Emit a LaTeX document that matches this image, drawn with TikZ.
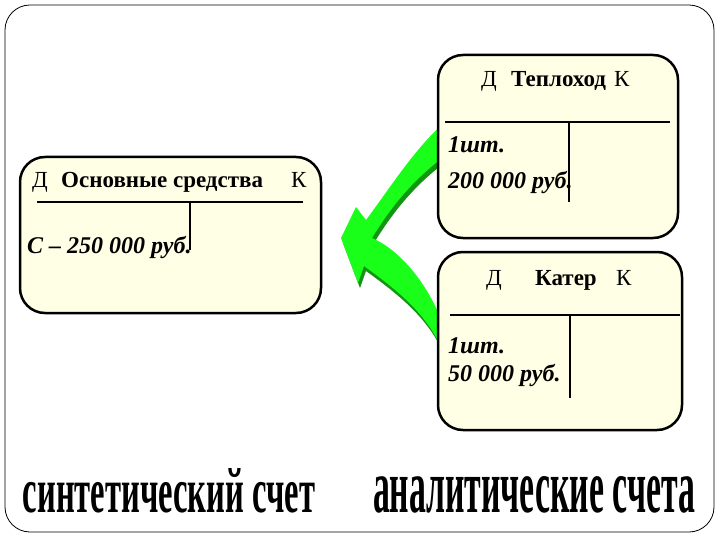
\documentclass[tikz,border=0pt]{standalone}
\usepackage{fontspec}
\setmainfont{Liberation Serif}
\usepackage{graphicx}
\definecolor{paper}{RGB}{255,255,230}
\definecolor{arrowgreen}{RGB}{25,255,25}
\definecolor{arrowshade}{RGB}{16,150,16}

\begin{document}
\begin{tikzpicture}[x=1pt, y=-1pt,
        acct/.style={draw=black, line width=2.5pt, fill=paper, rounded corners=25pt, inner sep=0pt},
        tline/.style={line width=1.6pt},
        head/.style={anchor=base west, inner sep=0pt, font=\fontsize{23}{23}\selectfont},
        headb/.style={head, font=\fontsize{23}{23}\selectfont\bfseries},
        sum/.style={anchor=base west, inner sep=0pt, font=\fontsize{24}{24}\selectfont\bfseries\itshape},
        big/.style={anchor=base, inner sep=0pt, font=\bfseries}]
        \useasboundingbox (0,0) rectangle (720,540);
        % frame
        \draw[line width=0.8pt, rounded corners=25pt] (5,5) rectangle (714,532);
        % green arrow, shadow first
        \foreach \c/\dx/\dy in {arrowshade/2/5, arrowgreen/0/0}
            \fill[\c, shift={(\dx,\dy)}]
                (341,238) -- (356,207) -- (366,220)
                .. controls (390,188) and (415,148) .. (445,122) -- (445,156)
                .. controls (415,178) and (392,205) .. (372,238)
                .. controls (400,250) and (430,285) .. (445,330) -- (445,358)
                .. controls (432,318) and (400,292) .. (364,266)
                -- (358,283) -- cycle;
        % accounts
        \node[acct, minimum width=301pt, minimum height=156pt] (os) at (170.5,235) {};
        \node[acct, minimum width=240pt, minimum height=183pt] (tep) at (558,146.5) {};
        \node[acct, minimum width=244pt, minimum height=178pt] (kat) at (560,341) {};
        % T lines
        \draw[tline] (37,202) -- (303,202) (190,202) -- (190,250);
        \draw[tline] (445,122) -- (670,122) (569,122) -- (569,202);
        \draw[tline] (450,315) -- (680,315) (570,315) -- (570,398);
        % headers
        \node[head] (osd) at (32,188) {Д};
        \node[headb] (osn) at (61,188) {Основные средства};
        \node[head] (osk) at (291,188) {К};
        \node[head] (tepd) at (481,87) {Д};
        \node[headb] (tepn) at (511,87) {Теплоход};
        \node[head] (tepk) at (614,87) {К};
        \node[head] (katd) at (486,285) {Д};
        \node[headb] (katn) at (535,285) {Катер};
        \node[head] (katk) at (616,285) {К};
        % amounts
        \node[sum] (oss) at (27,253) {С – 250 000 руб.};
        \node[sum] (tepq) at (448,153) {1шт.};
        \node[sum] (teps) at (448,189) {200 000 руб.};
        \node[sum] (katq) at (448,353) {1шт.};
        \node[sum] (kats) at (448,381) {50 000 руб.};
        % captions
        \node[big] (synth) at (169,512) {\resizebox{292pt}{44pt}{синтетический счет}};
        \node[big] (analyt) at (534,512) {\resizebox{322pt}{36pt}{аналитические счета}};
    \end{tikzpicture}
\end{document}
